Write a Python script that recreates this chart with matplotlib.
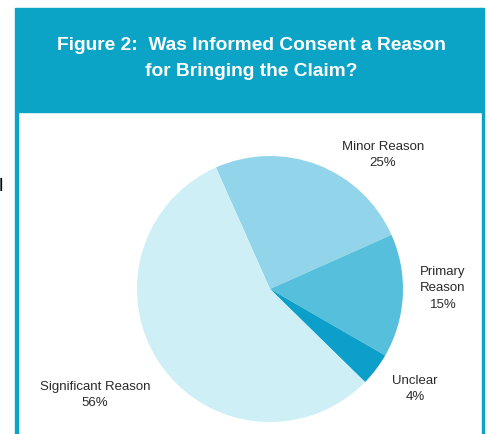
import matplotlib
matplotlib.use("Agg")
import matplotlib.pyplot as plt
from matplotlib.patches import Rectangle

# data
reasons = ["Minor Reason", "Primary\nReason", "Unclear", "Significant Reason"]
shares = [25, 15, 4, 56]
slice_colors = ["#92d5ea", "#56bfdb", "#0b9fc9", "#cfeff7"]
title = "Figure 2:  Was Informed Consent a Reason\nfor Bringing the Claim?"

W, H = 488, 435
teal = "#0ba3c6"

plt.rcParams['font.family'] = ['Liberation Sans', 'DejaVu Sans']

fig = plt.figure(figsize=(W / 100, H / 100), dpi=100)
ax = fig.add_axes([0, 0, 1, 1])

# frame: header band plus side rules
ax.add_patch(Rectangle((15, H - 113), 469, 104, color=teal, zorder=1))
ax.add_patch(Rectangle((15, 0), 2.5, H - 113, color=teal, zorder=1))
ax.add_patch(Rectangle((481.5, 0), 2.5, H - 113, color=teal, zorder=1))

ax.text(251, H - 58.5, title, color="white", ha="center", va="center",
        fontsize=13.8, fontweight="bold", linespacing=1.75)

# pie, clockwise from the Significant/Minor boundary
wedges, _ = ax.pie(shares, colors=slice_colors, startangle=114,
                   counterclock=False, center=(270, H - 290), radius=133,
                   wedgeprops=dict(linewidth=0), frame=True)
for w in wedges:
    w.set_zorder(2)

lab_kw = dict(ha="center", va="center", fontsize=9.5, color="#2a2a2a",
              linespacing=1.5)
pos = [(383, 155), (443, 288), (415, 389), (95, 395)]
for name, val, (px, py) in zip(reasons, shares, pos):
    ax.text(px, H - py, f"{name}\n{val}%", **lab_kw)

# clipped letter from the neighbouring page column
ax.text(-1, H - 187, "l", ha="left", va="center", fontsize=14, color="black")

ax.set_xlim(0, W)
ax.set_ylim(0, H)
ax.set_aspect("auto")
ax.axis("off")

fig.savefig("out.png", dpi=100)
